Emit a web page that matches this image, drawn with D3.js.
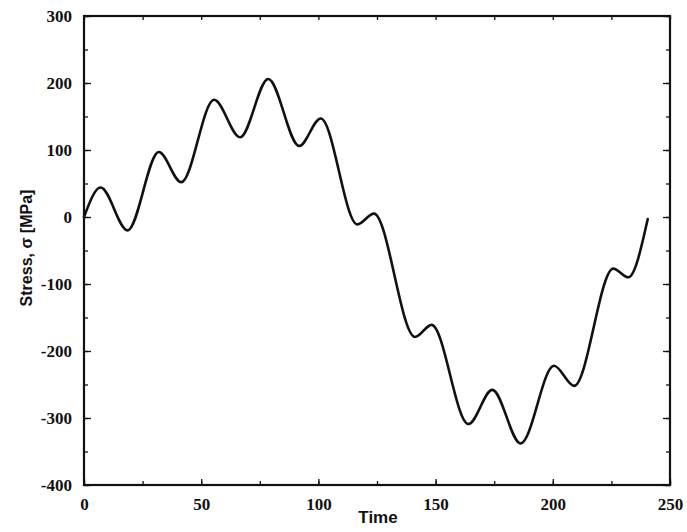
<!DOCTYPE html>
<html>
<head>
<meta charset="utf-8">
<script src="https://cdn.jsdelivr.net/npm/d3@7"></script>
<style>
  body { margin: 0; background: #fff; }
</style>
</head>
<body>
<svg id="chart"></svg>
<script>
// extrema
var times = [0, 7.1, 18.6, 31.9, 41.5, 55.5, 66.6, 78.6, 91.8, 101, 116.6, 123.7, 141.2, 148.3, 164, 174.2, 186.3, 200.5, 209.1, 225.8, 232.2, 240.5];
var stress = [0, 44, -20, 97, 52, 175, 119, 206, 106, 147, -11, 5, -179, -161, -309, -258, -338, -222, -252, -77, -90, -3];
var xTicks = [0, 50, 100, 150, 200, 250];
var yTicks = [-400, -300, -200, -100, 0, 100, 200, 300];

var data = times.map(function(t, i) { return {t: t, v: stress[i]}; });

var margin = {top: 16, right: 17, bottom: 47, left: 84},
    width = 687 - margin.left - margin.right,
    height = 532 - margin.top - margin.bottom;

var svg = d3.select("#chart")
    .attr("width", 687)
    .attr("height", 532);

var g = svg.append("g")
    .attr("transform", "translate(" + margin.left + "," + margin.top + ")");

var x = d3.scaleLinear().domain([0, 250]).range([0, width]);
var y = d3.scaleLinear().domain([-400, 300]).range([height, 0]);

var minorX = d3.range(0, 251, 25);
var minorY = d3.range(-400, 301, 50);
var plain = function(d) { return String(d); };

// bottom axis, ticks pointing in
g.append("g")
    .attr("transform", "translate(0," + height + ")")
    .call(d3.axisBottom(x).tickValues(minorX).tickSize(-4).tickFormat(""));
g.append("g")
    .attr("class", "labels")
    .attr("transform", "translate(0," + height + ")")
    .call(d3.axisBottom(x).tickValues(xTicks).tickSize(-6).tickPadding(13).tickFormat(plain));
// top axis
g.append("g")
    .call(d3.axisTop(x).tickValues(minorX).tickSize(-4).tickFormat(""));
// left axis
g.append("g")
    .call(d3.axisLeft(y).tickValues(minorY).tickSize(-4).tickFormat(""));
g.append("g")
    .attr("class", "labels")
    .call(d3.axisLeft(y).tickValues(yTicks).tickSize(-7).tickPadding(12).tickFormat(plain));
// right axis
g.append("g")
    .attr("transform", "translate(" + width + ",0)")
    .call(d3.axisRight(y).tickValues(minorY).tickSize(-4).tickFormat(""));
g.append("g")
    .attr("transform", "translate(" + width + ",0)")
    .call(d3.axisRight(y).tickValues(yTicks).tickSize(-7).tickFormat(""));

g.selectAll(".domain").remove();
g.selectAll(".tick line").attr("stroke", "#111").attr("stroke-width", 1.3);
g.selectAll(".labels text")
    .attr("fill", "#111")
    .style("font-family", "'Liberation Serif', 'DejaVu Serif', serif")
    .style("font-weight", "bold")
    .style("font-size", "17px");

// frame
g.append("rect")
    .attr("width", width)
    .attr("height", height)
    .attr("fill", "none")
    .attr("stroke", "#111")
    .attr("stroke-width", 2.2);

var line = d3.line()
    .x(function(d) { return x(d.t); })
    .y(function(d) { return y(d.v); })
    .curve(d3.curveMonotoneX);

g.append("path")
    .datum(data)
    .attr("fill", "none")
    .attr("stroke", "#111")
    .attr("stroke-width", 2.6)
    .attr("stroke-linejoin", "round")
    .attr("stroke-linecap", "round")
    .attr("d", line);

svg.append("text")
    .attr("x", margin.left + width / 2 + 1)
    .attr("y", 523)
    .attr("text-anchor", "middle")
    .style("font-family", "'Liberation Sans', Arial, sans-serif")
    .style("font-weight", "bold")
    .style("font-size", "17px")
    .attr("fill", "#111")
    .text("Time");

svg.append("text")
    .attr("transform", "translate(32,248) rotate(-90)")
    .attr("text-anchor", "middle")
    .style("font-family", "'Liberation Sans', Arial, sans-serif")
    .style("font-weight", "bold")
    .style("font-size", "16px")
    .attr("fill", "#111")
    .text("Stress, σ [MPa]");
</script>
</body>
</html>
